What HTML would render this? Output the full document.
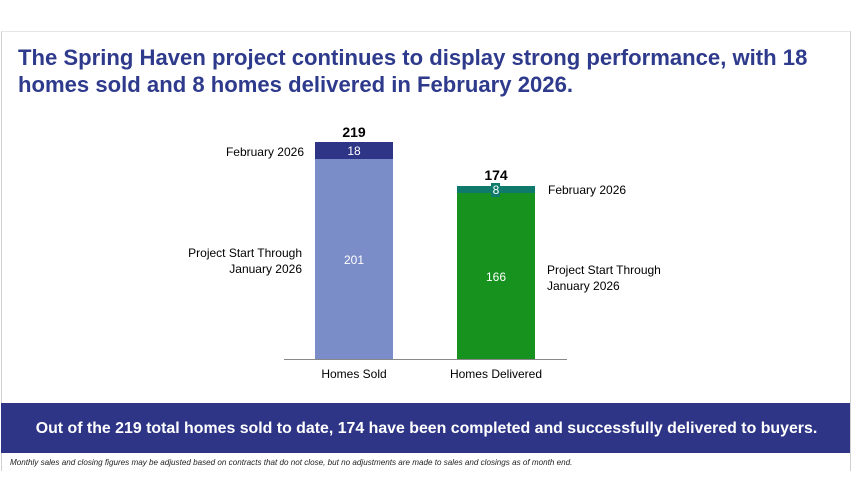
<!DOCTYPE html>
<html><head><style>
body{margin:0;width:852px;height:502px;background:#fff;position:relative;font-family:"Liberation Sans",sans-serif;overflow:hidden}
.a{position:absolute}
</style></head><body>
<div class="a" style="left:1px;top:31px;width:848px;height:439px;border:1px solid #d0d0d0;border-top-color:#e6e6e6;border-bottom:none"></div>
<div class="a" style="left:18px;top:44px;width:830px;font-size:22.1px;font-weight:bold;color:#2e3a8c;line-height:27px">The Spring Haven project continues to display strong performance, with 18 homes sold and 8 homes delivered in February 2026.</div>
<div class="a" style="left:315px;top:142px;width:78px;height:17px;background:#2e3587"></div>
<div class="a" style="left:315px;top:159px;width:78px;height:200px;background:#7b8dc8"></div>
<div class="a" style="left:457px;top:186px;width:78px;height:7px;background:#0f7a6c"></div>
<div class="a" style="left:457px;top:193px;width:78px;height:166px;background:#17921f"></div>
<div class="a" style="left:491px;top:183px;width:9px;height:14px;background:#0f7a6c"></div>
<div class="a" style="left:284px;top:359px;width:283px;height:1px;background:#888"></div>
<div class="a" style="left:315px;top:124px;width:78px;text-align:center;font-size:14px;font-weight:bold">219</div>
<div class="a" style="left:315px;top:144px;width:78px;text-align:center;font-size:12px;color:#fff">18</div>
<div class="a" style="left:315px;top:253px;width:78px;text-align:center;font-size:12px;color:#fff">201</div>
<div class="a" style="left:457px;top:167px;width:78px;text-align:center;font-size:14px;font-weight:bold">174</div>
<div class="a" style="left:457px;top:183px;width:78px;text-align:center;font-size:12px;color:#fff">8</div>
<div class="a" style="left:457px;top:270px;width:78px;text-align:center;font-size:12px;color:#fff">166</div>
<div class="a" style="left:150px;top:145px;width:154px;text-align:right;font-size:12px">February 2026</div>
<div class="a" style="left:150px;top:245px;width:152px;text-align:right;font-size:12px;line-height:16px">Project Start Through<br>January 2026</div>
<div class="a" style="left:548px;top:183px;font-size:12px">February 2026</div>
<div class="a" style="left:547px;top:262px;font-size:12px;line-height:16px">Project Start Through<br>January 2026</div>
<div class="a" style="left:294px;top:367px;width:120px;text-align:center;font-size:12px">Homes Sold</div>
<div class="a" style="left:436px;top:367px;width:120px;text-align:center;font-size:12px">Homes Delivered</div>
<div class="a" style="left:1px;top:403px;width:849px;height:50px;background:#2e3587"></div>
<div class="a" style="left:1px;top:420px;width:851px;text-align:center;color:#fff;font-size:15.9px;font-weight:bold">Out of the 219 total homes sold to date, 174 have been completed and successfully delivered to buyers.</div>
<div class="a" style="left:10px;top:458px;font-size:8.1px;font-style:italic;color:#222">Monthly sales and closing figures may be adjusted based on contracts that do not close, but no adjustments are made to sales and closings as of month end.</div>
</body></html>
